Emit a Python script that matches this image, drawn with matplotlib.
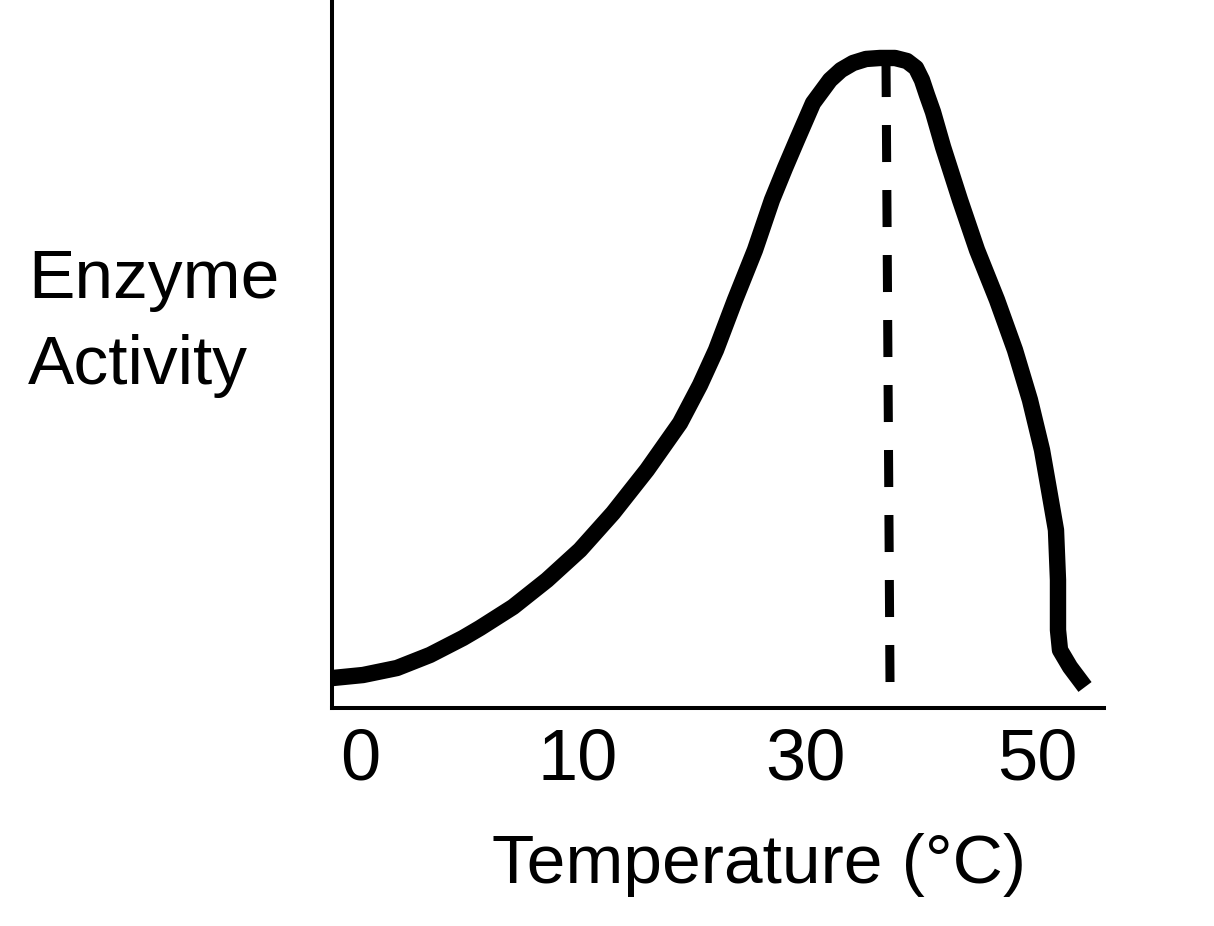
import matplotlib
matplotlib.use("Agg")
import matplotlib.pyplot as plt

plt.rcParams['font.family'] = ['Liberation Sans', 'DejaVu Sans']

# Curve (position along axis, 0-100 on both axes)
curve_x = [0.13, 4.02, 8.42, 12.69, 16.97, 19.17, 23.45, 27.85, 32.12, 36.40,
           40.80, 45.08, 47.67, 49.74, 52.20, 54.79, 56.99, 58.68, 60.23, 62.31,
           64.51, 65.93, 67.49, 69.17, 70.98,
           72.93, 74.48, 75.65, 76.42, 77.07, 77.85, 79.15, 81.35, 83.55, 86.14,
           88.47, 90.41, 91.97, 92.88, 93.78, 94.04, 94.04, 94.30, 95.60, 97.54]
curve_y = [4.24, 4.66, 5.65, 7.49, 9.89, 11.30, 14.27, 18.08, 22.32, 27.54,
           33.62, 40.25, 45.62, 50.56, 57.63, 64.69, 71.75, 76.27, 80.23, 85.45,
           88.70, 90.11, 91.10, 91.67, 91.81,
           91.81, 91.38, 90.40, 88.70, 86.58, 84.18, 79.24, 71.75, 64.69, 57.63,
           50.56, 43.50, 36.44, 30.79, 25.14, 18.08, 11.02, 8.19, 5.79, 2.97]

# optimum marker (dashed vertical line)
opt_x = [72.28, 71.76]
opt_y = [3.67, 91.8]

tick_pos = [3.63, 31.87, 61.27, 91.32]
tick_labels = ["0", "10", "30", "50"]

fig = plt.figure(figsize=(12.14, 9.26), dpi=100)
ax = fig.add_axes([332/1214, 218/926, 772/1214, 708/926])

ax.plot(curve_x, curve_y, color='black', lw=11.8,
        solid_capstyle='butt', solid_joinstyle='round')
ax.plot(opt_x, opt_y, color='black', lw=6.5, dashes=(4.1, 3.1))

ax.set_xlim(0, 100)
ax.set_ylim(0, 100)

for s in ['top', 'right']:
    ax.spines[s].set_visible(False)
for s in ['left', 'bottom']:
    ax.spines[s].set_linewidth(2.9)

ax.set_xticks(tick_pos, tick_labels)
ax.set_yticks([])
ax.tick_params(axis='x', length=0, pad=14, labelsize=52)

ax.set_xlabel("Temperature (°C)", fontsize=50)
ax.xaxis.set_label_coords(0.553, -0.1766)

ax.set_ylabel("Enzyme\nActivity", fontsize=50, rotation=0,
              ha='left', va='top', linespacing=1.45)
ax.yaxis.set_label_coords(-0.394, 0.65)

fig.savefig("out.png", dpi=100)
